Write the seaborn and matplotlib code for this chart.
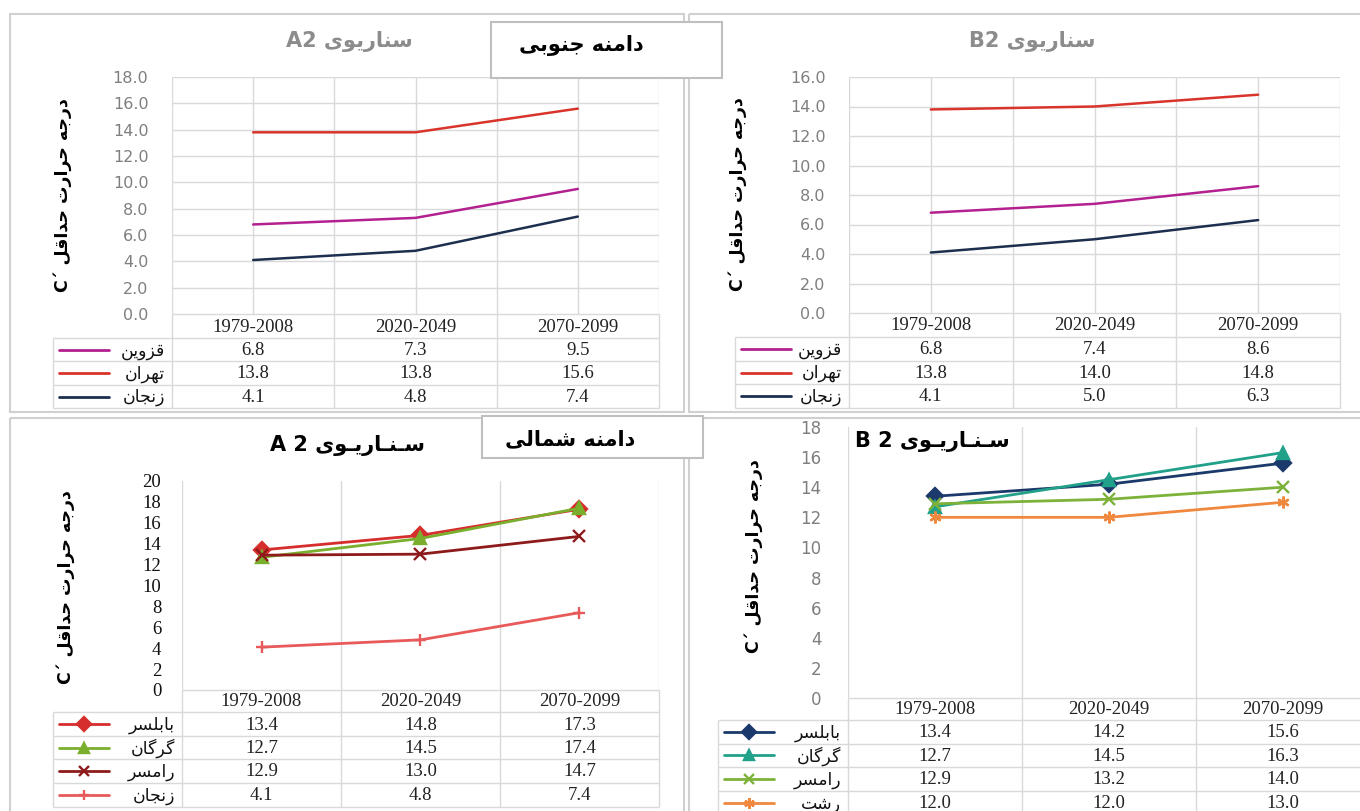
import numpy as np
import pandas as pd
import matplotlib
matplotlib.use('Agg')
import matplotlib.pyplot as plt
import seaborn as sns
from matplotlib.patches import Rectangle
from matplotlib.ticker import FormatStrFormatter

## data
periods = ['1979-2008', '2020-2049', '2070-2099']

# southern slope (A2 / B2)
south_cities = ['قزوین', 'تهران', 'زنجان']
south_colors = ['#B3208F', '#D9342B', '#1D2F4E']
south_a2_qazvin = [6.8, 7.3, 9.5]
south_a2_tehran = [13.8, 13.8, 15.6]
south_a2_zanjan = [4.1, 4.8, 7.4]
south_b2_qazvin = [6.8, 7.4, 8.6]
south_b2_tehran = [13.8, 14.0, 14.8]
south_b2_zanjan = [4.1, 5.0, 6.3]

# northern slope
north_a2_cities = ['بابلسر', 'گرگان', 'رامسر', 'زنجان']
north_a2_colors = ['#D62D2D', '#7AAF2E', '#8E1B1B', '#E85A5A']
north_a2_markers = ['D', '^', 'x', '+']
north_a2_babolsar = [13.4, 14.8, 17.3]
north_a2_gorgan = [12.7, 14.5, 17.4]
north_a2_ramsar = [12.9, 13.0, 14.7]
north_a2_zanjan = [4.1, 4.8, 7.4]

north_b2_cities = ['بابلسر', 'گرگان', 'رامسر', 'رشت']
north_b2_colors = ['#1B3A6B', '#21A08A', '#7DB23A', '#F0883E']
north_b2_markers = ['D', '^', 'x', (6, 2, 0)]
north_b2_babolsar = [13.4, 14.2, 15.6]
north_b2_gorgan = [12.7, 14.5, 16.3]
north_b2_ramsar = [12.9, 13.2, 14.0]
north_b2_rasht = [12.0, 12.0, 13.0]

ylabel_fa = 'درجه حرارت حداقل'
scenario_fa = 'سناریوی'
scenario_wide_fa = 'سـنـاریـوی'
south_fa = 'دامنه جنوبی'
north_fa = 'دامنه شمالی'

## persian shaping (matplotlib has no RTL shaping)
FORMS = {
    'ا': ('\uFE8D', '\uFE8E', None, None),
    'ب': ('\uFE8F', '\uFE90', '\uFE91', '\uFE92'),
    'ت': ('\uFE95', '\uFE96', '\uFE97', '\uFE98'),
    'ج': ('\uFE9D', '\uFE9E', '\uFE9F', '\uFEA0'),
    'ح': ('\uFEA1', '\uFEA2', '\uFEA3', '\uFEA4'),
    'د': ('\uFEA9', '\uFEAA', None, None),
    'ر': ('\uFEAD', '\uFEAE', None, None),
    'ز': ('\uFEAF', '\uFEB0', None, None),
    'س': ('\uFEB1', '\uFEB2', '\uFEB3', '\uFEB4'),
    'ش': ('\uFEB5', '\uFEB6', '\uFEB7', '\uFEB8'),
    'ق': ('\uFED5', '\uFED6', '\uFED7', '\uFED8'),
    'ل': ('\uFEDD', '\uFEDE', '\uFEDF', '\uFEE0'),
    'م': ('\uFEE1', '\uFEE2', '\uFEE3', '\uFEE4'),
    'ن': ('\uFEE5', '\uFEE6', '\uFEE7', '\uFEE8'),
    'ه': ('\uFEE9', '\uFEEA', '\uFEEB', '\uFEEC'),
    'و': ('\uFEED', '\uFEEE', None, None),
    'ی': ('\uFBFC', '\uFBFD', '\uFBFE', '\uFBFF'),
    'گ': ('\uFB92', '\uFB93', '\uFB94', '\uFB95'),
    'ـ': ('ـ', 'ـ', 'ـ', 'ـ'),
}


def fa(text):
    out = []
    n = len(text)
    for i, ch in enumerate(text):
        f = FORMS.get(ch)
        if f is None:
            out.append(ch)
            continue
        prev = i > 0 and text[i - 1] in FORMS and FORMS[text[i - 1]][2] is not None
        nxt = f[2] is not None and i < n - 1 and text[i + 1] in FORMS
        if prev and nxt:
            out.append(f[3])
        elif prev:
            out.append(f[1])
        elif nxt:
            out.append(f[2])
        else:
            out.append(f[0])
    return ''.join(reversed(out))


## figure
W, H = 1360, 811
sns.set_style('white')
plt.rcParams['font.family'] = ['DejaVu Sans']
fig = plt.figure(figsize=(W / 100, H / 100), dpi=100)
GRID = '#D9D9D9'
SERIF = 'Liberation Serif'


def px_axes(x0, y0, x1, y1):
    return fig.add_axes([x0 / W, 1 - y1 / H, (x1 - x0) / W, (y1 - y0) / H])


def draw_panel(box, table_left, rows, names, values, colors, markers, ymax, fmt,
               tick_font, tick_color, tick_size, pad, hgrid, half_grid):
    x0, y0, x1, y1 = box
    ax = px_axes(x0, y0, x1, y1)
    ax.patch.set_alpha(0)
    for name, vals, col, mk in zip(names, values, colors, markers):
        kw = {}
        if mk is not None:
            kw = dict(marker=mk, markersize=8.5, markeredgecolor=col,
                      markerfacecolor=col, markeredgewidth=1.7)
        sns.lineplot(x=periods, y=vals, ax=ax, color=col,
                     linewidth=2.0 if mk is not None else 1.8, zorder=3, **kw)
    ax.set_xlim(-0.5, 2.5)
    ax.set_ylim(0, ymax)
    ax.set_yticks(np.arange(0, ymax + 0.01, 2))
    ax.yaxis.set_major_formatter(FormatStrFormatter(fmt))
    vlines = np.arange(-0.5, 2.51, 0.5) if half_grid else [-0.5, 0.5, 1.5, 2.5]
    for v in vlines:
        ax.axvline(v, color=GRID, lw=1, zorder=0)
    if hgrid:
        for yv in np.arange(2, ymax + 0.01, 2):
            ax.axhline(yv, color=GRID, lw=1, zorder=0)
    ax.set_xticks([])
    ax.set_xlabel('')
    ax.set_ylabel('')
    sns.despine(ax=ax, left=True, bottom=True)
    ax.tick_params(axis='y', length=0, pad=pad, labelsize=tick_size,
                   labelcolor=tick_color, labelfontfamily=tick_font)

    # data table under the plot
    cw = (x1 - x0) / 3
    tx = lambda p: -0.5 + (p - x0) / cw
    xl = tx(table_left)
    tab = px_axes(table_left, rows[0], x1, rows[-1])
    tab.set_xlim(xl, 2.5)
    tab.set_ylim(rows[-1], rows[0])
    tab.axis('off')
    tab.hlines(rows[0], -0.5, 2.5, color=GRID, lw=1, clip_on=False)
    tab.hlines(rows[1:], xl, 2.5, color=GRID, lw=1, clip_on=False)
    tab.vlines([-0.5, 0.5, 1.5, 2.5], rows[0], rows[-1], color=GRID, lw=1, clip_on=False)
    tab.vlines(xl, rows[1], rows[-1], color=GRID, lw=1, clip_on=False)
    for j, p in enumerate(periods):
        tab.text(j, (rows[0] + rows[1]) / 2 + 1, p, ha='center', va='center',
                 fontsize=13.5, family=SERIF, color='#222222')
    for i, (name, vals, col, mk) in enumerate(zip(names, values, colors, markers)):
        yc = (rows[i + 1] + rows[i + 2]) / 2
        for j, v in enumerate(vals):
            tab.text(j, yc + 1, f'{v:.1f}', ha='center', va='center',
                     fontsize=13.5, family=SERIF, color='#222222')
        la, lb = tx(table_left + 6), tx(table_left + 56)
        tab.plot([la, lb], [yc, yc], color=col, lw=2.0, clip_on=False)
        if mk is not None:
            tab.plot([(la + lb) / 2], [yc], marker=mk, markersize=7.5, color=col,
                     markeredgewidth=1.7, clip_on=False)
        tab.text(tx(x0 - 7), yc + 1, fa(name), ha='right', va='center',
                 fontsize=12.5, color='#111111')
    return ax


# top-left: southern slope A2
draw_panel((172, 77, 659, 314), 53, [314, 338, 361, 385, 408],
           south_cities, [south_a2_qazvin, south_a2_tehran, south_a2_zanjan],
           south_colors, [None] * 3, 18, '%.1f', 'DejaVu Sans', '#7F7F7F', 11.5, 17,
           True, True)
# top-right: southern slope B2
draw_panel((849, 77, 1340, 313), 735, [313, 337, 361, 384, 408],
           south_cities, [south_b2_qazvin, south_b2_tehran, south_b2_zanjan],
           south_colors, [None] * 3, 16, '%.1f', 'DejaVu Sans', '#7F7F7F', 11.5, 17,
           True, True)
# bottom-left: northern slope A2
draw_panel((182, 481, 659, 690), 53, [690, 712, 736, 759, 783, 807],
           north_a2_cities, [north_a2_babolsar, north_a2_gorgan, north_a2_ramsar, north_a2_zanjan],
           north_a2_colors, north_a2_markers, 20, '%d', SERIF, '#111111', 13.5, 15,
           False, False)
# bottom-right: northern slope B2
draw_panel((848, 427, 1370, 698), 718, [698, 720, 744, 767, 791, 815],
           north_b2_cities, [north_b2_babolsar, north_b2_gorgan, north_b2_ramsar, north_b2_rasht],
           north_b2_colors, north_b2_markers, 18, '%d', 'DejaVu Sans', '#7F7F7F', 12, 19,
           False, False)

## overlay: panel frames, titles, y labels, slope boxes
ov = px_axes(0, 0, W, H)
ov.set_xlim(0, W)
ov.set_ylim(H, 0)
ov.axis('off')
for (a, b, c, d) in [(10, 14, 684, 412), (689, 14, 1372, 412),
                     (10, 418, 684, 822), (689, 418, 1372, 822)]:
    ov.add_patch(Rectangle((a, b), c - a, d - b, fill=False, ec='#D0D0D0', lw=1.5))

ov.text(349, 42, 'A2 ' + fa(scenario_fa), ha='center', va='center',
        fontsize=15, fontweight='bold', color='#8C8C8C')
ov.text(1032, 42, 'B2 ' + fa(scenario_fa), ha='center', va='center',
        fontsize=15, fontweight='bold', color='#8C8C8C')
ov.text(347, 445, 'A 2 ' + fa(scenario_wide_fa), ha='center', va='center',
        fontsize=15, fontweight='bold', color='black')
ov.text(855, 442, 'B 2 ' + fa(scenario_wide_fa), ha='left', va='center',
        fontsize=15, fontweight='bold', color='black')

ylab = 'C´ ' + fa(ylabel_fa)
for (x, y) in [(63, 195), (738, 194), (66, 587), (754, 556)]:
    ov.text(x, y, ylab, rotation=90, ha='center', va='center',
            fontsize=12.5, fontweight='bold', color='black')

ov.add_patch(Rectangle((491, 22), 231, 56, fc='white', ec='#BFBFBF', lw=1.5))
ov.text(581, 46, fa(south_fa), ha='center', va='center',
        fontsize=15, fontweight='bold', color='black')
ov.add_patch(Rectangle((482, 416), 221, 42, fc='white', ec='#BFBFBF', lw=1.5))
ov.text(570, 439, fa(north_fa), ha='center', va='center',
        fontsize=15, fontweight='bold', color='black')

fig.savefig('out.png', dpi=100)
